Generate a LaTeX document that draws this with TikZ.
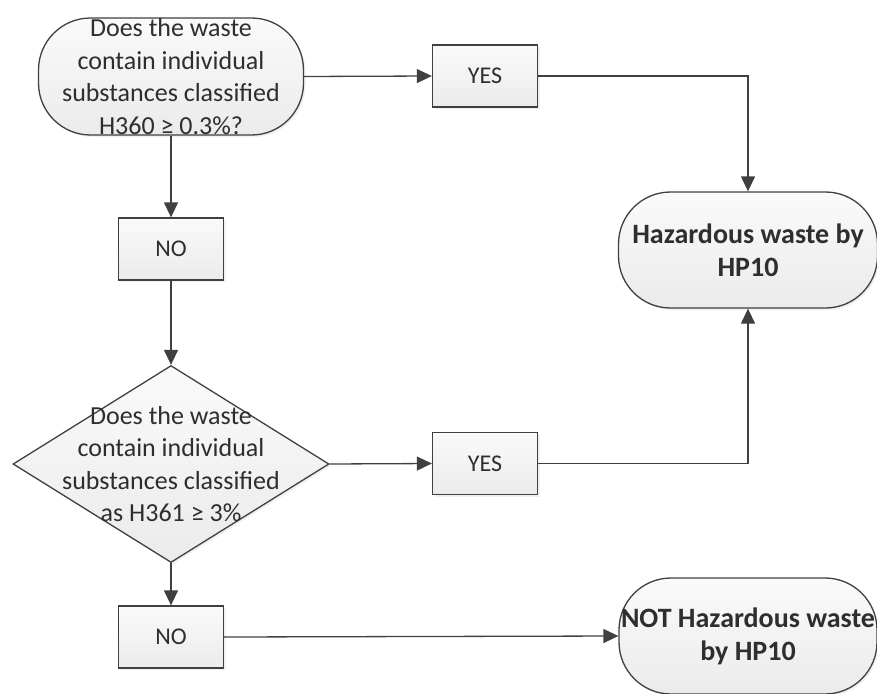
\documentclass[tikz,border=0pt]{standalone}
\usepackage{fontspec}
\setmainfont{Carlito}
\usetikzlibrary{arrows.meta,shapes.geometric,shadows}

\definecolor{edgegray}{HTML}{404040}
\definecolor{filltop}{HTML}{FAFAFA}
\definecolor{fillbot}{HTML}{EBEBEB}
\definecolor{textgray}{HTML}{2E2E2E}

\tikzset{
  base/.style={draw=edgegray, line width=1.3pt, top color=filltop, bottom color=fillbot,
    text=textgray, align=center, inner sep=0pt,
    drop shadow={opacity=0.12, shadow xshift=2pt, shadow yshift=-2pt}},
  caption/.style={text=textgray, align=center, font=\fontsize{26}{32.5}\selectfont},
  boldcaption/.style={text=textgray, align=center, font=\fontsize{28}{33}\selectfont\bfseries},
  terminal/.style={base, rectangle, rounded corners=52pt},
  decision/.style={base, diamond},
  answer/.style={base, rectangle, minimum width=105pt, minimum height=62pt,
    font=\fontsize{24}{28}\selectfont},
  flow/.style={draw=edgegray, line width=1.3pt, -{Triangle[length=15pt,width=14pt]}},
}

\begin{document}
\begin{tikzpicture}[x=1pt,y=-1pt]
  \useasboundingbox (0,0) rectangle (877,693);

  % questions
  \node[terminal, minimum width=265pt, minimum height=117pt,
        label={[caption]center:Does the waste\\contain individual\\substances classified\\H360 ≥ 0.3\%?}]
        (q1) at (171,76.5) {};
  \node[decision, minimum width=316pt, minimum height=197pt,
        label={[caption]center:Does the waste\\contain individual\\substances classified\\as H361 ≥ 3\%}]
        (q2) at (171,464) {};

  % answers
  \node[answer] (yes1) at (485,76)    {YES};
  \node[answer] (no1)  at (171,249)   {NO};
  \node[answer] (yes2) at (485,463.5) {YES};
  \node[answer] (no2)  at (171,637)   {NO};

  % outcomes
  \node[terminal, minimum width=259pt, minimum height=116pt,
        label={[boldcaption]center:Hazardous waste by\\HP10}]
        (haz) at (748,250) {};
  \node[terminal, minimum width=258pt, minimum height=116pt,
        label={[boldcaption]center:NOT Hazardous waste\\by HP10}]
        (nothaz) at (748,636) {};

  % connectors
  \draw[flow] (q1.east) -- (yes1.west);
  \draw[flow] (yes1.east) -| (haz.north);
  \draw[flow] (q1.south) -- (no1.north);
  \draw[flow] (no1.south) -- (q2.north);
  \draw[flow] (q2.east) -- (yes2.west);
  \draw[flow] (yes2.east) -| (haz.south);
  \draw[flow] (q2.south) -- (no2.north);
  \draw[flow] (no2.east) -- (nothaz.west);
\end{tikzpicture}
\end{document}
